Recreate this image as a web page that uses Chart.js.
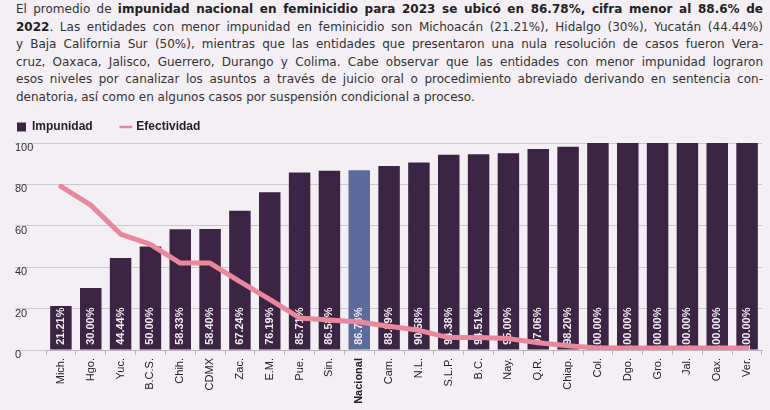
<!DOCTYPE html>
<html lang="es">
<head>
<meta charset="UTF-8">
<title>Impunidad y efectividad en feminicidio 2023</title>
<script src="https://cdn.jsdelivr.net/npm/chart.js"></script>
<style>
  html, body { margin: 0; padding: 0; background: #f3eff4; }
  body { width: 770px; height: 410px; position: relative; overflow: hidden; }
  .texto { position: absolute; left: 16px; top: 1px; width: 747px;
           font-family: "DejaVu Sans", sans-serif; font-size: 12px; line-height: 17.5px; color: #333; }
  .texto div { white-space: nowrap; text-align: justify; text-align-last: justify; }
  .texto div.ultima { text-align-last: left; }
  .texto b { color: #222; }
  .grafica { position: absolute; left: 0; top: 119px; width: 770px; height: 291px; }
</style>
</head>
<body>
<div class="texto">
  <div>El promedio de <b>impunidad nacional en feminicidio para 2023 se ubicó en 86.78%, cifra menor al 88.6% de</b></div>
  <div><b>2022</b>. Las entidades con menor impunidad en feminicidio son Michoacán (21.21%), Hidalgo (30%), Yucatán (44.44%)</div>
  <div>y Baja California Sur (50%), mientras que las entidades que presentaron una nula resolución de casos fueron Vera-</div>
  <div>cruz, Oaxaca, Jalisco, Guerrero, Durango y Colima. Cabe observar que las entidades con menor impunidad lograron</div>
  <div>esos niveles por canalizar los asuntos a través de juicio oral o procedimiento abreviado derivando en sentencia con-</div>
  <div class="ultima">denatoria, así como en algunos casos por suspensión condicional a proceso.</div>
</div>
<div class="grafica"><canvas id="chart"></canvas></div>

<script>
// entidades, ordenadas por impunidad
const entidades = ['Mich.', 'Hgo.', 'Yuc.', 'B.C.S.', 'Chih.', 'CDMX', 'Zac.', 'E.M.', 'Pue.', 'Sin.',
  'Nacional', 'Cam.', 'N.L.', 'S.L.P.', 'B.C.', 'Nay.', 'Q.R.', 'Chiap.', 'Col.', 'Dgo.', 'Gro.',
  'Jal.', 'Oax.', 'Ver.'];
// % de impunidad (barras)
const impunidad = [21.21, 30.00, 44.44, 50.00, 58.33, 58.40, 67.24, 76.19, 85.71, 86.58,
  86.78, 88.89, 90.58, 94.38, 94.51, 95.00, 97.06, 98.20, 100, 100, 100, 100, 100, 100];
// % de efectividad (línea)
const efectividad = [79, 70, 56, 51, 42, 42, 33, 24.5, 15.5, 14.5,
  13.5, 11.5, 9.5, 6, 6, 5.5, 3.5, 2, 1, 1, 1, 1, 1, 1];
const marcasY = [0, 20, 40, 60, 80, 100];

const MORADO = '#3c2444';
const AZUL = '#5b6b9c';
const ROSA = '#e9879c';

// etiquetas blancas verticales dentro de cada barra (el final del texto queda a la misma altura)
const etiquetasBarras = {
  id: 'etiquetasBarras',
  afterDatasetDraw(chart, args) {
    if (args.index !== 0) return;
    const ctx = chart.ctx;
    ctx.save();
    ctx.font = 'bold 11px "Liberation Sans", Arial, sans-serif';
    ctx.fillStyle = '#f4ecf2';
    ctx.textAlign = 'right';
    ctx.textBaseline = 'middle';
    args.meta.data.forEach((bar, i) => {
      ctx.save();
      ctx.translate(bar.x, bar.base - 42);
      ctx.rotate(-Math.PI / 2);
      ctx.fillText(impunidad[i].toFixed(2) + '%', 0, 0);
      ctx.restore();
    });
    ctx.restore();
  }
};

new Chart(document.getElementById('chart'), {
  data: {
    labels: entidades,
    datasets: [{
      type: 'bar',
      label: 'Impunidad',
      data: impunidad,
      backgroundColor: entidades.map(e => e === 'Nacional' ? AZUL : MORADO),
      barPercentage: 0.72,
      categoryPercentage: 1,
      pointStyle: 'rect',
      order: 1
    }, {
      type: 'line',
      label: 'Efectividad',
      data: efectividad,
      borderColor: ROSA,
      backgroundColor: ROSA,
      borderWidth: 5,
      borderJoinStyle: 'round',
      borderCapStyle: 'round',
      pointRadius: 0,
      pointStyle: 'line',
      tension: 0,
      order: 0
    }]
  },
  options: {
    responsive: true,
    maintainAspectRatio: false,
    animation: false,
    layout: { padding: { left: 15, right: 8, top: 0, bottom: 0 } },
    plugins: {
      tooltip: { enabled: false },
      legend: {
        position: 'top',
        align: 'start',
        labels: {
          usePointStyle: true,
          boxWidth: 9,
          boxHeight: 9,
          padding: 2,
          color: '#222',
          font: { family: '"Liberation Sans", Arial, sans-serif', size: 12, weight: 'bold' },
          sort: (a, b) => a.datasetIndex - b.datasetIndex,
          generateLabels(chart) {
            const items = Chart.defaults.plugins.legend.labels.generateLabels(chart);
            items.forEach(it => {
              if (it.datasetIndex === 0) it.text = it.text + '        ';
              else it.lineWidth = 2.5;
            });
            return items;
          }
        }
      }
    },
    scales: {
      x: {
        offset: true,
        grid: { display: true, offset: true, drawOnChartArea: false, drawTicks: true, tickLength: 5, color: '#b9b3bb' },
        border: { display: true, color: '#b9b3bb' },
        ticks: {
          autoSkip: false,
          minRotation: 90,
          maxRotation: 90,
          padding: 3,
          color: '#222',
          font: ctx => ({
            family: '"Liberation Sans", Arial, sans-serif',
            size: 11,
            weight: entidades[ctx.index] === 'Nacional' ? 'bold' : 'normal'
          })
        },
        afterFit(scale) { scale.height = 60; }
      },
      y: {
        min: 0,
        max: 100,
        afterBuildTicks(scale) { scale.ticks = marcasY.map(v => ({ value: v })); },
        grid: { color: '#cdc7cf', lineWidth: 1, drawTicks: true, tickLength: 31 },
        border: { display: false },
        ticks: {
          crossAlign: 'far',
          labelOffset: 5,
          padding: 0,
          color: '#333',
          font: { family: '"Liberation Sans", Arial, sans-serif', size: 11 }
        },
        afterFit(scale) { scale.width = 31; }
      }
    }
  },
  plugins: [etiquetasBarras]
});
</script>
</body>
</html>
